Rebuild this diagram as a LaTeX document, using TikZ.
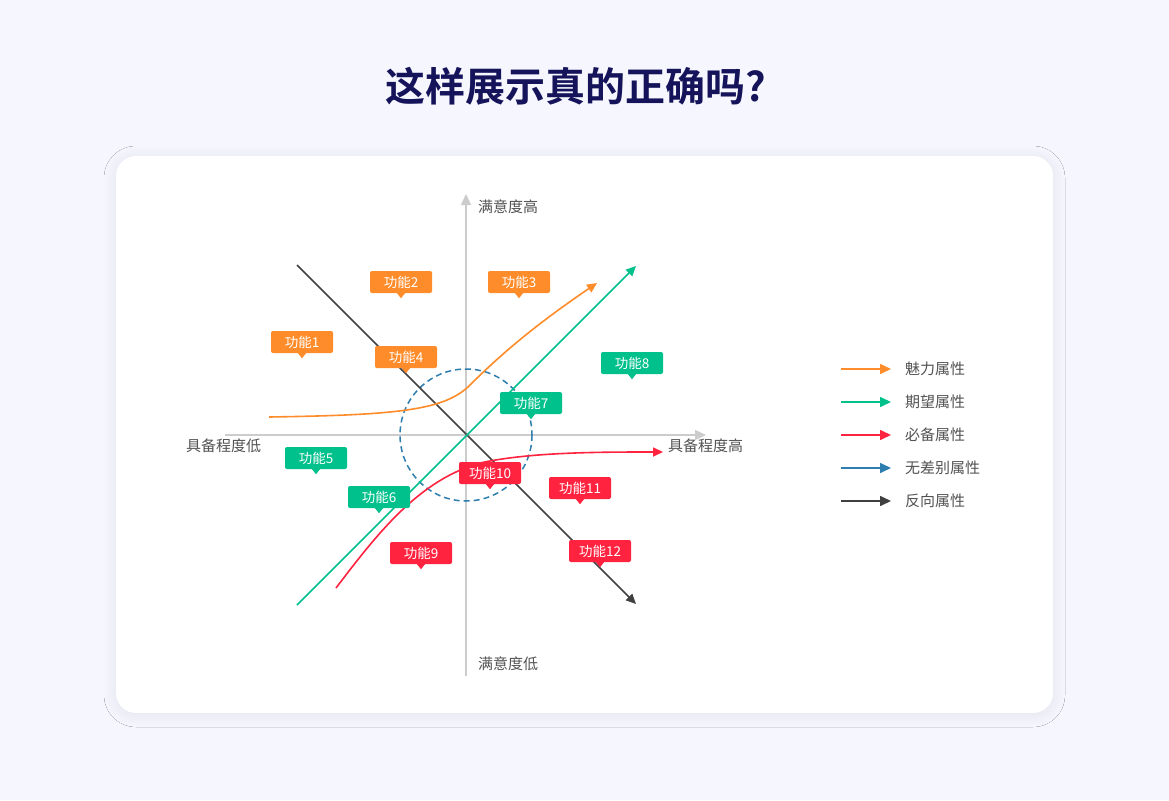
\documentclass[tikz,border=0pt]{standalone}
\usepackage{fontspec}
\setmainfont{Noto Sans CJK SC}
\newfontfamily\cjkb{Noto Sans CJK SC Bold}
\usetikzlibrary{arrows.meta,shadows.blur}
\definecolor{bg}{HTML}{F5F6FE}
\definecolor{ttl}{HTML}{15135A}
\definecolor{cor}{HTML}{FF8C2A}
\definecolor{cgr}{HTML}{00C08B}
\definecolor{crd}{HTML}{FF2340}
\definecolor{cbl}{HTML}{2E7DAF}
\definecolor{cbk}{HTML}{404040}
\definecolor{axc}{HTML}{CCCCCC}
\tikzset{
 tag/.style={fill=#1,text=white,rounded corners=2pt,minimum width=62pt,minimum height=22pt,inner sep=0pt,font=\fontsize{13.5}{13.5}\selectfont},
 lbl/.style={text=cbk!90,font=\fontsize{15}{15}\selectfont,inner sep=0pt},
 crv/.style={line width=1.6pt,-{Triangle[length=10pt,width=9pt]}},
}
\newcommand{\tagat}[4]{\node[tag=#1] (#2) at (#3) {#4};
 \fill[#1] ([xshift=-4pt]#2.south) -- ([xshift=4pt]#2.south) -- ([yshift=-5pt]#2.south) -- cycle;}
\begin{document}
\begin{tikzpicture}[x=1pt,y=-1pt]
\useasboundingbox (0,0) rectangle (1169,800);
\fill[bg] (0,0) rectangle (1169,800);
\node[text=ttl,font=\cjkb\fontsize{40}{40}\selectfont] (title) at (576,86) {这样展示真的正确吗?};
\fill[white,rounded corners=20pt,blur shadow={shadow blur steps=10,shadow blur radius=12pt,shadow xshift=0pt,shadow yshift=-2pt,shadow opacity=8}] (116,156) rectangle (1053,713);
% axes
\coordinate (xl) at (225,435); \coordinate (xr) at (706,435);
\coordinate (yb) at (466,676); \coordinate (yt) at (466,194);
\draw[axc,line width=1.2pt,-{Triangle[length=11pt,width=10pt]}] (xl) -- (xr);
\draw[axc,line width=1.2pt,-{Triangle[length=11pt,width=10pt]}] (yb) -- (yt);
\node[lbl,anchor=west] (ht) at (478,207) {满意度高};
\node[lbl,anchor=west] (lo) at (478,664) {满意度低};
\node[lbl,anchor=west] (xlo) at (186,446) {具备程度低};
\node[lbl,anchor=west] (xhi) at (668,446) {具备程度高};
% circle
\draw[cbl,line width=1.5pt,dash pattern=on 6pt off 4pt] (466,435) circle (66);
% lines
\coordinate (k1) at (297,265); \coordinate (k2) at (636,604);
\draw[cbk,crv] (k1) -- (k2);
\coordinate (g1) at (297,605); \coordinate (g2) at (636,266);
\draw[cgr,crv] (g1) -- (g2);
\coordinate (o1) at (269,417); \coordinate (o2) at (597,283);
\draw[cor,crv] (o1) .. controls (400,415) and (445,410) .. (470,385) .. controls (510,345) and (550,315) .. (o2);
\coordinate (r1) at (336,588); \coordinate (r2) at (663,452);
\draw[crd,crv] (r1) .. controls (380,530) and (420,480) .. (480,463) .. controls (530,452) and (600,452) .. (r2);
% tags
\tagat{cor}{f1}{302,342}{功能1}
\tagat{cor}{f2}{401,282}{功能2}
\tagat{cor}{f3}{519,282}{功能3}
\tagat{cor}{f4}{406,357}{功能4}
\tagat{cgr}{f5}{316,458}{功能5}
\tagat{cgr}{f6}{379,497}{功能6}
\tagat{cgr}{f7}{531,403}{功能7}
\tagat{cgr}{f8}{632,363}{功能8}
\tagat{crd}{f9}{421,553}{功能9}
\tagat{crd}{f10}{490,473}{功能10}
\tagat{crd}{f11}{580,488}{功能11}
\tagat{crd}{f12}{600,551}{功能12}
% legend
\foreach \c/\t/\y [count=\i] in {cor/魅力属性/369,cgr/期望属性/402,crd/必备属性/435,cbl/无差别属性/468,cbk/反向属性/501}{
 \coordinate (la\i) at (841,\y); \coordinate (lb\i) at (891,\y);
 \draw[\c,line width=1.6pt,-{Triangle[length=11pt,width=10pt]}] (la\i) -- (lb\i);
 \node[lbl,anchor=west] (lt\i) at (905,\y) {\t};
}
\end{tikzpicture}
\end{document}
